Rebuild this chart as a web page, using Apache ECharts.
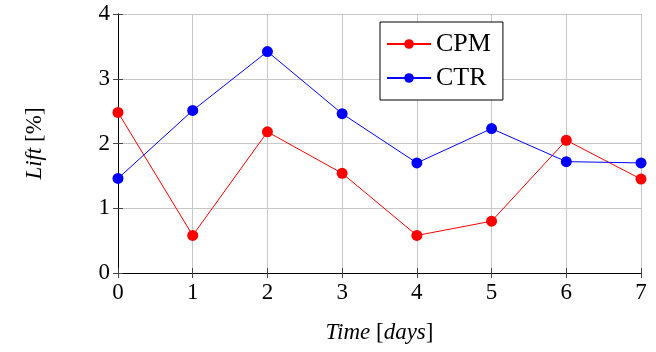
<!DOCTYPE html>
<html>
<head>
<meta charset="utf-8">
<script src="https://cdn.jsdelivr.net/npm/echarts@6/dist/echarts.min.js"></script>
<style>
  html, body { margin: 0; padding: 0; background: #fff; }
  #chart { width: 656px; height: 352px; }
</style>
</head>
<body>
<div id="chart"></div>
<script>
// data
const days = [0, 1, 2, 3, 4, 5, 6, 7];
const cpm = [2.48, 0.58, 2.18, 1.54, 0.58, 0.80, 2.05, 1.45];
const ctr = [1.46, 2.51, 3.42, 2.46, 1.70, 2.23, 1.72, 1.70];

const chart = echarts.init(document.getElementById('chart'));
const font = 'Liberation Serif';

// axis helper: ticks inside, grey grid
function axis(extra) {
  return Object.assign({
    type: 'value',
    interval: 1,
    axisLine: { show: true, lineStyle: { color: '#000', width: 1 } },
    axisTick: { show: true, inside: true, length: 5, lineStyle: { color: '#444' } },
    splitLine: { show: true, lineStyle: { color: '#c8c8c8', width: 1 } },
    axisLabel: { color: '#000', fontFamily: font, fontSize: 23, margin: 8 }
  }, extra);
}

const nameStyle = {
  fontFamily: font, fontSize: 23, color: '#000',
  rich: { i: { fontFamily: font, fontSize: 23, fontStyle: 'italic', color: '#000' } }
};

chart.setOption({
  animation: false,
  grid: { left: 118, right: 15, top: 14, bottom: 79 },
  legend: {
    orient: 'vertical',
    left: 380, top: 22,
    data: ['CPM', 'CTR'],
    itemWidth: 44, itemHeight: 12,
    itemGap: 8,
    padding: [9, 12, 9, 6],
    borderColor: '#000', borderWidth: 1,
    backgroundColor: '#fff',
    textStyle: { fontFamily: font, fontSize: 26, color: '#000' }
  },
  xAxis: [
    axis({
      min: 0, max: 7,
      name: '{i|Time} [{i|days}]',
      nameLocation: 'middle', nameGap: 48,
      nameTextStyle: nameStyle
    }),
    axis({
      min: 0, max: 7, position: 'top',
      axisLabel: { show: false }, splitLine: { show: false }
    })
  ],
  yAxis: [
    axis({
      min: 0, max: 4,
      name: '{i|Lift} [%]',
      nameLocation: 'middle', nameGap: 72,
      nameTextStyle: nameStyle
    }),
    axis({
      min: 0, max: 4, position: 'right',
      axisLabel: { show: false }, splitLine: { show: false }
    })
  ],
  series: [
    {
      name: 'CPM', type: 'line',
      data: days.map((d, i) => [d, cpm[i]]),
      symbol: 'circle', symbolSize: 11,
      itemStyle: { color: '#ff0000' },
      lineStyle: { color: '#ff0000', width: 1 }
    },
    {
      name: 'CTR', type: 'line',
      data: days.map((d, i) => [d, ctr[i]]),
      symbol: 'circle', symbolSize: 11,
      itemStyle: { color: '#0000ff' },
      lineStyle: { color: '#0000ff', width: 1 }
    }
  ]
});
</script>
</body>
</html>
